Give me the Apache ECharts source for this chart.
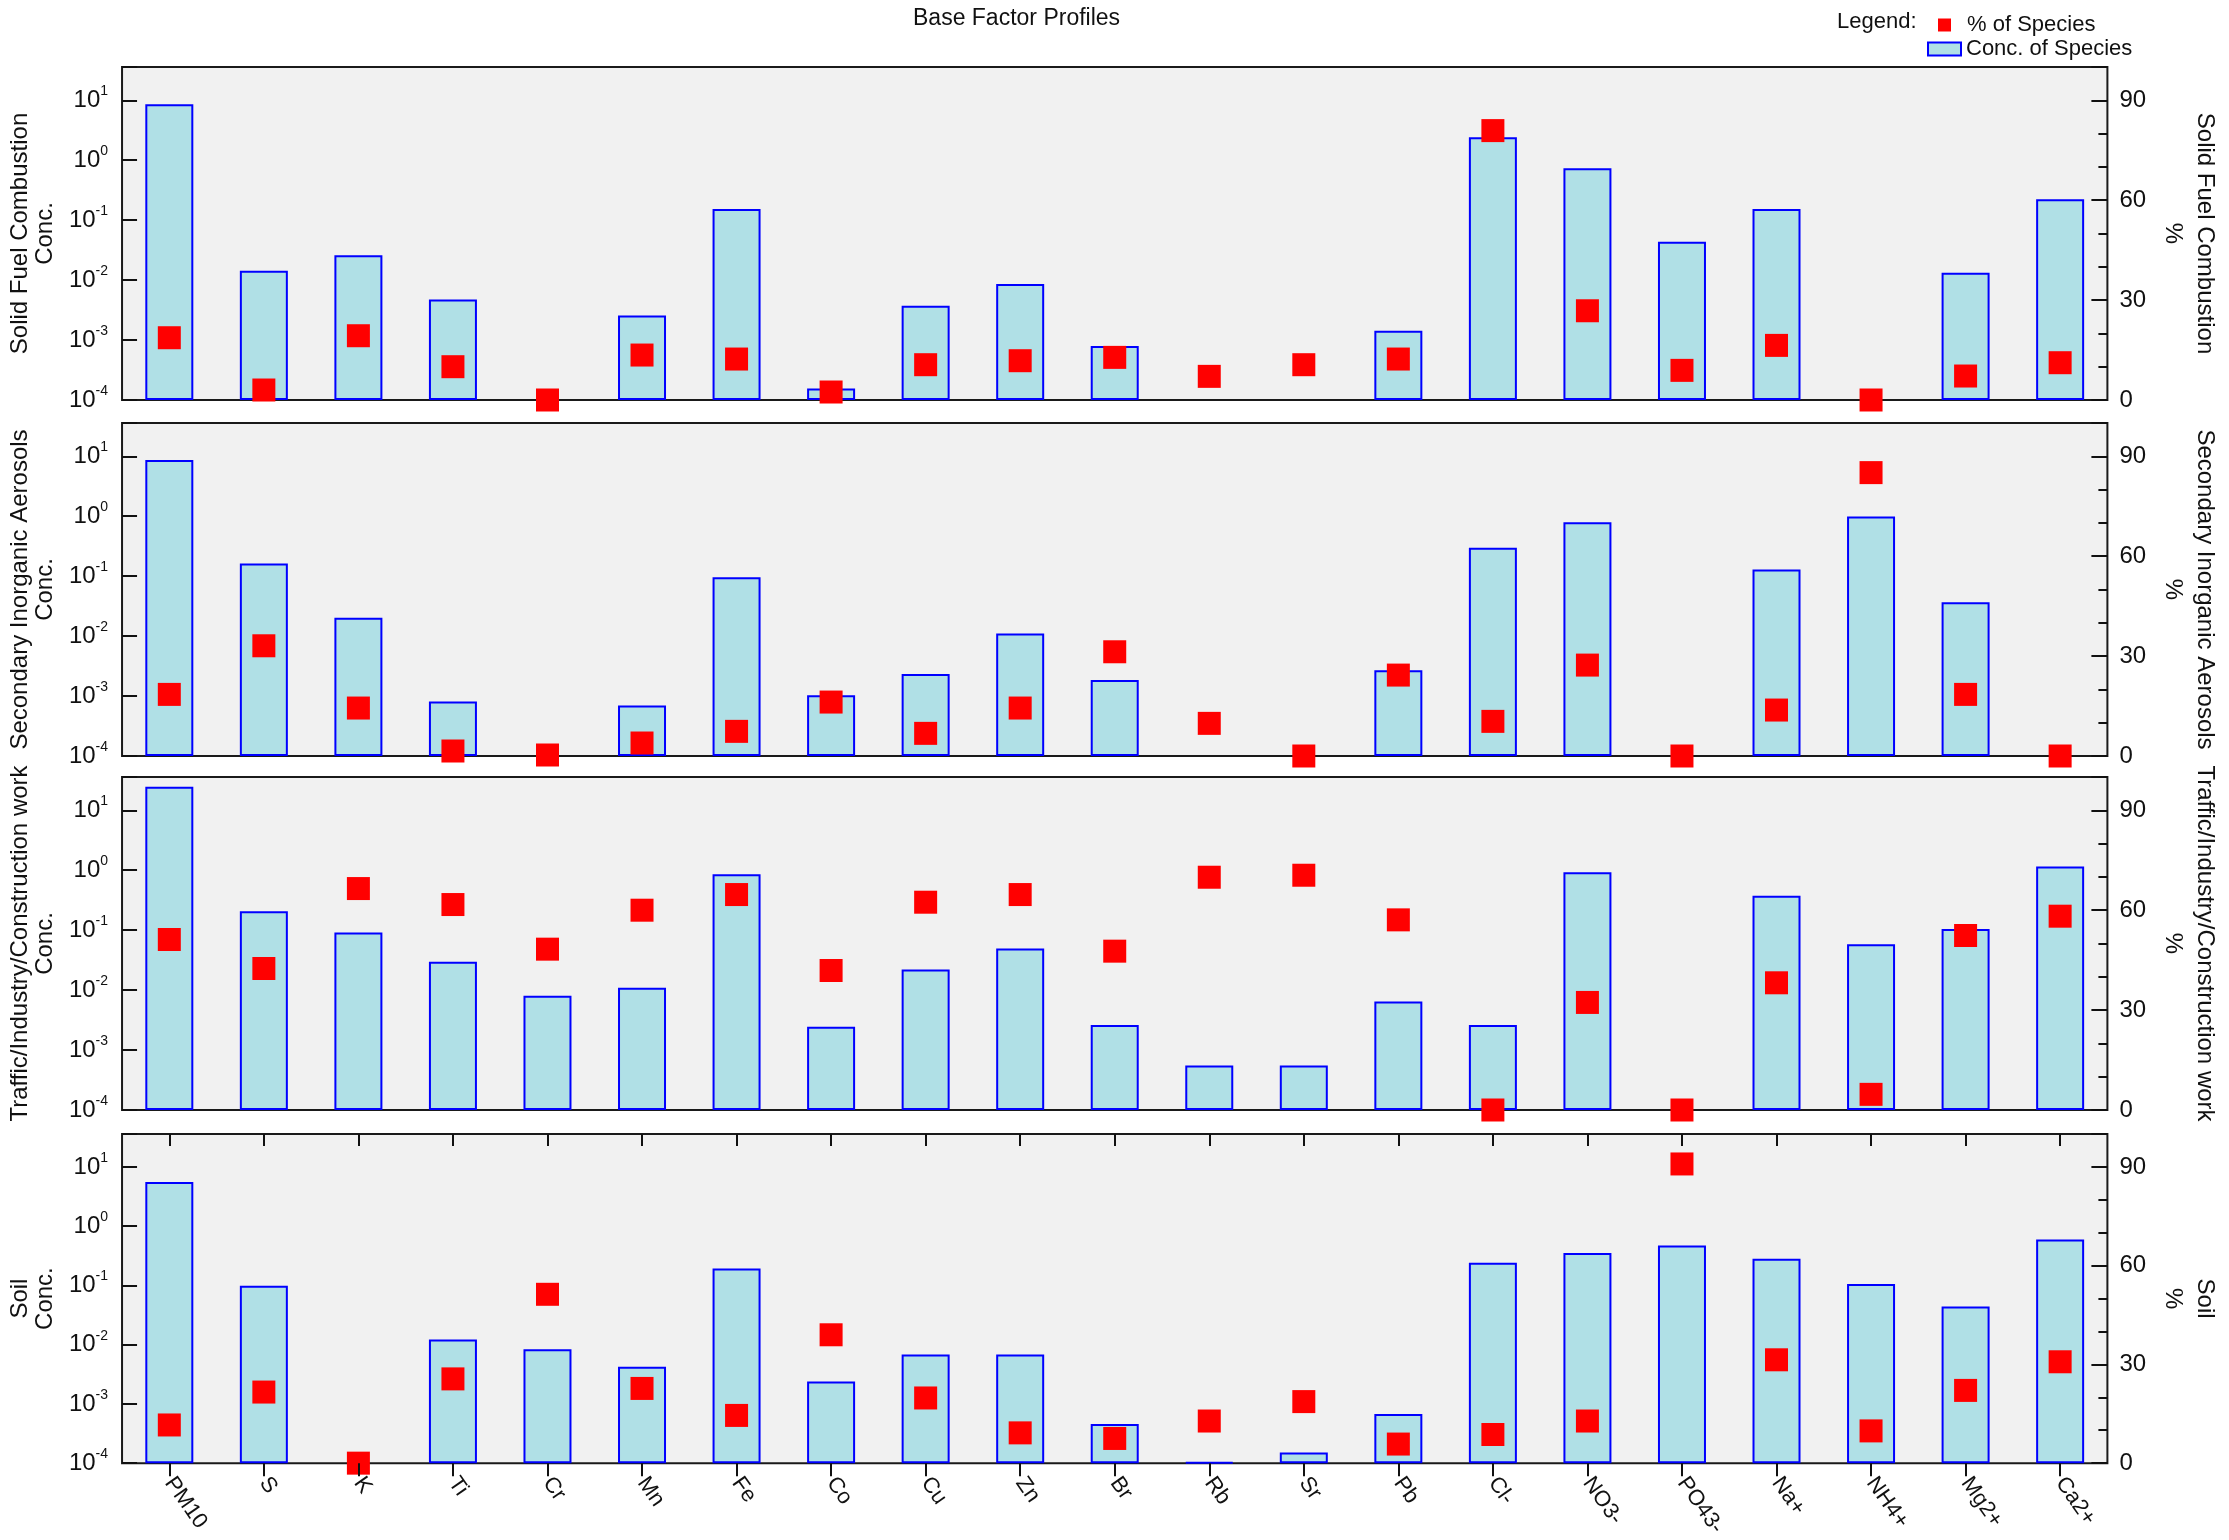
<!DOCTYPE html>
<html><head><meta charset="utf-8">
<script src="https://cdn.jsdelivr.net/npm/echarts@6/dist/echarts.min.js"></script>
<style>html,body{margin:0;padding:0;background:#fff}#c{width:2229px;height:1540px}</style>
</head><body><div id="c"></div>
<script>
const categories = ['PM10','S','K','Ti','Cr','Mn','Fe','Co','Cu','Zn','Br','Rb','Sr','Pb','Cl-','NO3-','PO43-','Na+','NH4+','Mg2+','Ca2+'];
const factorNames = ['Solid Fuel Combustion','Secondary Inorganic Aerosols','Traffic/Industry/Construction work','Soil'];

const concSolidFuel = [8.6, 0.0143, 0.0261, 0.00476, null, 0.00258, 0.154, 0.000155, 0.00373, 0.00858, 0.000794, null, null, 0.00143, 2.42, 0.736, 0.0435, 0.154, null, 0.0133, 0.224];
const pctSolidFuel  = [18.7, 3.0, 19.3, 10.0, 0.0, 13.5, 12.3, 2.4, 10.6, 11.8, 12.8, 7.1, 10.6, 12.3, 80.9, 26.8, 8.9, 16.4, 0.0, 7.2, 11.2];

const concSecondary = [8.7, 0.163, 0.0203, 0.000815, null, 0.000698, 0.096, 0.00103, 0.00234, 0.0111, 0.00185, null, null, 0.00269, 0.299, 0.794, null, 0.129, 0.987, 0.0366, null];
const pctSecondary  = [18.5, 33.1, 14.4, 1.5, 0.3, 3.9, 7.4, 16.2, 6.8, 14.4, 31.3, 9.8, 0.0, 24.3, 10.4, 27.3, 0.0, 13.8, 85.1, 18.5, 0.0];

const concTraffic = [24.7, 0.206, 0.0912, 0.0296, 0.00805, 0.011, 0.861, 0.00245, 0.022, 0.0497, 0.00262, 0.00055, 0.00055, 0.00645, 0.00262, 0.93, null, 0.377, 0.058, 0.105, 1.16];
const pctTraffic  = [51.2, 42.5, 66.5, 61.7, 48.3, 60.0, 64.7, 41.9, 62.4, 64.7, 47.7, 69.9, 70.5, 57.1, 0.0, 32.3, 0.0, 38.2, 4.7, 52.4, 58.2];

const concSoil = [5.55, 0.0984, null, 0.0122, 0.00838, 0.00425, 0.192, 0.00238, 0.00682, 0.00682, 0.00046, 0.000104, 0.000151, 0.000678, 0.242, 0.351, 0.471, 0.282, 0.106, 0.0439, 0.594];
const pctSoil  = [11.6, 21.6, 0.0, 25.6, 51.3, 22.7, 14.5, 39.0, 19.8, 9.2, 7.5, 12.8, 18.7, 5.8, 8.7, 12.8, 90.9, 31.4, 9.8, 22.1, 30.8];

const concAll = [concSolidFuel, concSecondary, concTraffic, concSoil];
const pctAll = [pctSolidFuel, pctSecondary, pctTraffic, pctSoil];

const CONC_MIN = 1e-4, CONC_MAX = 35.94, PCT_MAX = 100;
const FONT = 'Liberation Sans, Arial, sans-serif';
const INK = '#111';
const gridTops = [67, 423, 777, 1134];

function logLabel(v) {
  const e = Math.log10(v), r = Math.round(e);
  if (Math.abs(e - r) > 1e-6) return '';
  return '{a|10}{b|' + r + '}';
}

const grid = [], xAxis = [], yAxis = [], series = [];
for (let i = 0; i < 4; i++) {
  const last = i === 3;
  grid.push({left: 117, right: 111, top: gridTops[i], height: 333, show: true,
    backgroundColor: '#f1f1f1', borderColor: '#1a1a1a', borderWidth: 2});
  xAxis.push({type: 'category', gridIndex: i, data: categories, z: 10,
    axisLine: {show: false},
    axisTick: {show: last, alignWithLabel: true, length: 13, lineStyle: {color: INK, width: 2}},
    axisLabel: {show: last, interval: 0, rotate: -55, margin: 16, fontSize: 22, color: INK, fontFamily: FONT}
  });
  yAxis.push({type: 'log', logBase: 10, gridIndex: i, position: 'left', min: CONC_MIN, max: CONC_MAX, startValue: CONC_MIN,
    axisLine: {show: false}, splitLine: {show: false}, minorTick: {show: false},
    axisTick: {show: true, inside: true, length: 15, lineStyle: {color: INK, width: 2}},
    axisLabel: {margin: 14, formatter: logLabel, fontFamily: FONT,
      rich: {a: {fontSize: 24, lineHeight: 24, verticalAlign: 'bottom', color: INK, fontFamily: FONT},
             b: {fontSize: 14, lineHeight: 14, verticalAlign: 'bottom', padding: [0, 0, 14, 0], color: INK, fontFamily: FONT}}},
    name: factorNames[i] + '\nConc.', nameLocation: 'middle', nameGap: 57,
    nameTextStyle: {fontSize: 24, lineHeight: 25, color: INK, fontFamily: FONT}
  });
  yAxis.push({type: 'value', gridIndex: i, position: 'right', min: 0, max: PCT_MAX, interval: 30,
    axisLine: {show: false}, splitLine: {show: false},
    axisTick: {show: true, inside: true, length: 16, lineStyle: {color: INK, width: 2}},
    minorTick: {show: true, splitNumber: 3, length: 9, lineStyle: {color: INK, width: 2}},
    axisLabel: {margin: 12, fontSize: 24, color: INK, fontFamily: FONT, formatter: v => v === PCT_MAX ? '' : String(v)},
    name: factorNames[i] + '\n%', nameLocation: 'middle', nameRotate: -90, nameGap: 41,
    nameTextStyle: {fontSize: 24, lineHeight: 32, color: INK, fontFamily: FONT}
  });
  series.push({type: 'bar', name: 'Conc. of Species', xAxisIndex: i, yAxisIndex: 2 * i, data: concAll[i],
    barWidth: 48, z: 2, itemStyle: {color: '#b0e0e6', borderColor: '#0000ff', borderWidth: 2}});
  series.push({type: 'scatter', name: '% of Species', xAxisIndex: i, yAxisIndex: 2 * i + 1, data: pctAll[i],
    symbol: 'rect', symbolSize: 23, z: 4, clip: false, itemStyle: {color: '#ff0000', opacity: 1}});
}
xAxis.push({type: 'category', gridIndex: 3, data: categories, z: 10,
  axisLine: {show: false}, axisLabel: {show: false},
  axisTick: {show: true, inside: true, alignWithLabel: true, length: 12, lineStyle: {color: INK, width: 2}}});

const chart = echarts.init(document.getElementById('c'));
chart.setOption({
  animation: false,
  backgroundColor: '#ffffff',
  textStyle: {fontFamily: FONT},
  title: [
    {text: 'Base Factor Profiles', left: 913, top: 7, padding: 0, textStyle: {fontSize: 23, fontWeight: 'normal', color: INK, fontFamily: FONT}},
    {text: 'Legend:', left: 1837, top: 11, padding: 0, textStyle: {fontSize: 22, fontWeight: 'normal', color: INK, fontFamily: FONT}}
  ],
  legend: [
    {data: ['% of Species'], left: 1938, top: 14, padding: 0, icon: 'rect', itemWidth: 13, itemHeight: 13,
     selectedMode: false, textStyle: {fontSize: 22, color: INK, fontFamily: FONT, padding: [0, 0, 0, 11]}},
    {data: ['Conc. of Species'], left: 1927, top: 38, padding: 0, icon: 'rect', itemWidth: 33, itemHeight: 13,
     selectedMode: false, textStyle: {fontSize: 22, color: INK, fontFamily: FONT}}
  ],
  grid, xAxis, yAxis, series
});
</script></body></html>
